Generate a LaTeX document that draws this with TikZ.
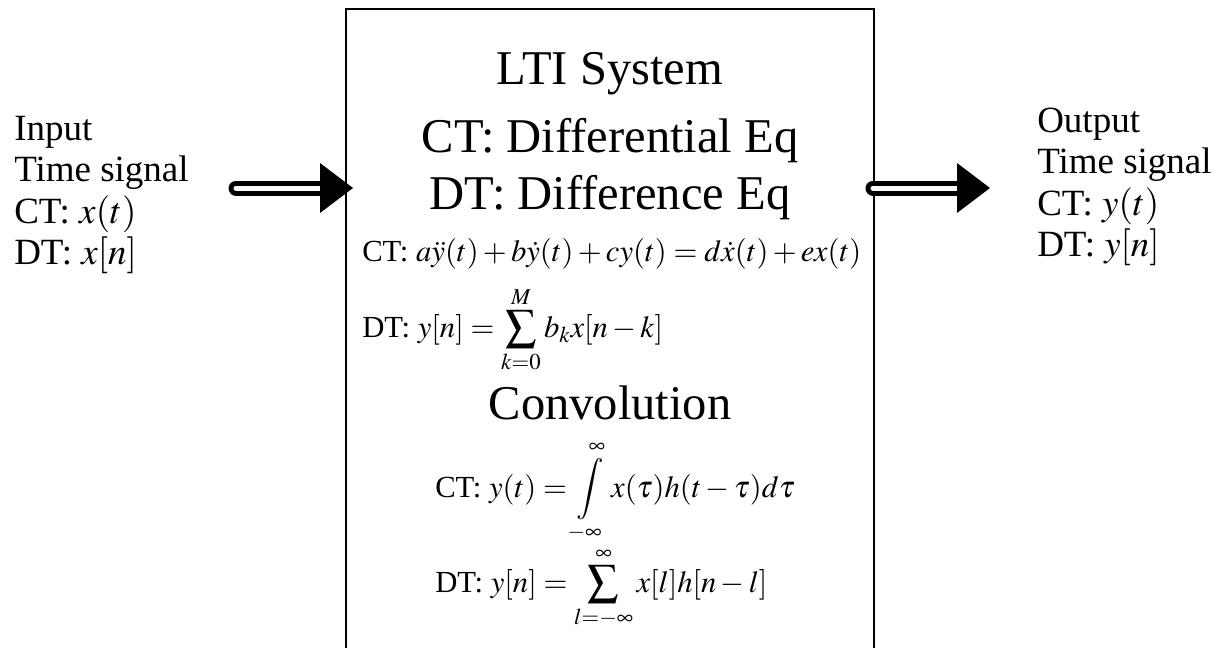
\documentclass[tikz,border=0pt]{standalone}
\usepackage{mathptmx}
\usepackage[no-math]{fontspec}
\setmainfont{Liberation Serif}
\tikzset{
  bigtext/.style={font=\fontsize{36.4pt}{40pt}\selectfont, anchor=base, inner sep=0pt},
  sidetext/.style={font=\fontsize{27.75pt}{30pt}\selectfont, anchor=base west, inner sep=0pt},
  eqtext/.style={font=\fontsize{23pt}{26pt}\selectfont, anchor=base west, inner sep=0pt},
  boxline/.style={line width=1.5pt},
  shaftouter/.style={line width=11.25pt, line cap=round},
  shaftinner/.style={line width=3.75pt, white, line cap=round},
}
\begin{document}
\begin{tikzpicture}[x=0.75pt,y=-0.75pt]
\useasboundingbox (0,0) rectangle (1215,647);
% system box (open at the bottom edge)
\coordinate (bl) at (346,660);
\coordinate (tl) at (346,9);
\coordinate (tr) at (874,9);
\coordinate (br) at (874,660);
\draw[boxline] (bl) -- (tl) -- (tr) -- (br);

% titles
\node[bigtext] (title) at (610,84) {LTI System};
\node[bigtext] (ctde) at (610,152) {CT: Differential Eq};
\node[bigtext] (dtde) at (610,209) {DT: Difference Eq};
\node[bigtext] (conv) at (610,419) {Convolution};

% equations
\node[eqtext] (eq1) at (362,261) {CT: $a\ddot{y}(t)+b\dot{y}(t)+cy(t)=d\dot{x}(t)+ex(t)$};
\node[eqtext] (eq2) at (362,337) {DT: $y[n]=\displaystyle\sum_{k=0}^{M}b_kx[n-k]$};
\node[eqtext] (eq3) at (435,497) {CT: $y(t)=\displaystyle\int\limits_{-\infty}^{\infty}x(\tau)h(t-\tau)d\tau$};
\node[eqtext] (eq4) at (435,592) {DT: $y[n]=\displaystyle\sum_{l=-\infty}^{\infty}x[l]h[n-l]$};

% input text
\node[sidetext] (in1) at (14,140) {Input};
\node[sidetext] (in2) at (14,181.5) {Time signal};
\node[sidetext] (in3) at (14,223) {CT: $x(t)$};
\node[sidetext] (in4) at (14,264.5) {DT: $x[n]$};

% output text
\node[sidetext] (out1) at (1037,132) {Output};
\node[sidetext] (out2) at (1037,173.5) {Time signal};
\node[sidetext] (out3) at (1037,215) {CT: $y(t)$};
\node[sidetext] (out4) at (1037,256.5) {DT: $y[n]$};

% input arrow
\coordinate (ia) at (236,188);
\coordinate (ib) at (322,188);
\coordinate (ic) at (320,188);
\coordinate (iht) at (320,163);
\coordinate (ihb) at (320,213);
\coordinate (itip) at (353,188);
\draw[shaftouter] (ia) -- (ib);
\draw[shaftinner] (ia) -- (ic);
\fill (iht) -- (itip) -- (ihb) -- cycle;

% output arrow
\coordinate (oa) at (873,188);
\coordinate (ob) at (959,188);
\coordinate (oc) at (957,188);
\coordinate (oht) at (957,163);
\coordinate (ohb) at (957,213);
\coordinate (otip) at (990,188);
\draw[shaftouter] (oa) -- (ob);
\draw[shaftinner] (oa) -- (oc);
\fill (oht) -- (otip) -- (ohb) -- cycle;
\end{tikzpicture}
\end{document}
